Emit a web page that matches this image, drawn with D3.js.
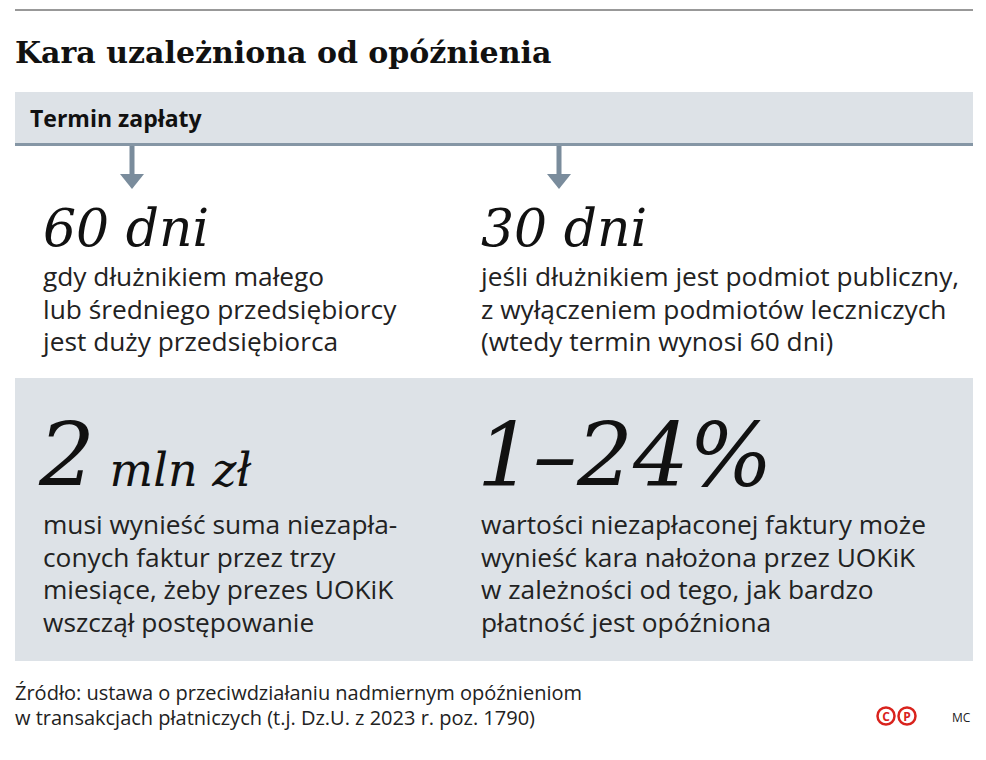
<!DOCTYPE html>
<html><head><meta charset="utf-8">
<script src="https://cdn.jsdelivr.net/npm/d3@7"></script>
<style>body{margin:0;background:#fff}</style></head>
<body><svg id="c" width="986" height="760"></svg>
<script>
const title = "Kara uzależniona od opóźnienia";
const bandLabel = "Termin zapłaty";
const topHeads = ["60 dni", "30 dni"];
const topTexts = [
  ["gdy dłużnikiem małego", "lub średniego przedsiębiorcy", "jest duży przedsiębiorca"],
  ["jeśli dłużnikiem jest podmiot publiczny,", "z wyłączeniem podmiotów leczniczych", "(wtedy termin wynosi 60 dni)"]
];
const bigNums = [["2", " mln zł"], ["1–24%", ""]];
const bottomTexts = [
  ["musi wynieść suma niezapła-", "conych faktur przez trzy", "miesiące, żeby prezes UOKiK", "wszczął postępowanie"],
  ["wartości niezapłaconej faktury może", "wynieść kara nałożona przez UOKiK", "w zależności od tego, jak bardzo", "płatność jest opóźniona"]
];
const source = ["Źródło: ustawa o przeciwdziałaniu nadmiernym opóźnieniom", "w transakcjach płatniczych (t.j. Dz.U. z 2023 r. poz. 1790)"];
const colX = [43, 481];
const arrowX = [132, 559];

const svg = d3.select("#c");
const sans = "'Open Sans', 'Noto Sans', sans-serif";
const serif = "'DejaVu Serif', 'Liberation Serif', serif";

svg.append("line").attr("x1", 15).attr("x2", 973).attr("y1", 10).attr("y2", 10).attr("stroke", "#333").attr("stroke-width", 1);
svg.append("text").attr("x", 15).attr("y", 63).text(title)
  .style("font-family", serif).style("font-weight", "bold").style("font-size", "30px").attr("fill", "#111");

svg.append("rect").attr("x", 15).attr("y", 92).attr("width", 958).attr("height", 52).attr("fill", "#dde2e7");
svg.append("rect").attr("x", 15).attr("y", 143).attr("width", 958).attr("height", 3).attr("fill", "#8596a5");
svg.append("text").attr("x", 30).attr("y", 127).text(bandLabel)
  .style("font-family", sans).style("font-weight", "bold").style("font-size", "23px").attr("fill", "#111");

arrowX.forEach(ax => {
  svg.append("rect").attr("x", ax - 2.5).attr("y", 146).attr("width", 5).attr("height", 30).attr("fill", "#7a8c9c");
  svg.append("path").attr("d", `M${ax-12},174 L${ax+12},174 L${ax},189 Z`).attr("fill", "#7a8c9c");
});

topHeads.forEach((h, i) => {
  svg.append("text").attr("x", colX[i]).attr("y", 246).text(h)
    .style("font-family", serif).style("font-style", "italic").style("font-size", "52px").attr("fill", "#111");
  topTexts[i].forEach((t, j) => {
    svg.append("text").attr("x", colX[i]).attr("y", 286 + j * 32.5).text(t)
      .style("font-family", sans).style("font-size", "26.3px").attr("fill", "#222");
  });
});

svg.append("rect").attr("x", 15).attr("y", 378).attr("width", 958).attr("height", 283).attr("fill", "#dde2e7");
bigNums.forEach((b, i) => {
  const t = svg.append("text").attr("x", colX[i] - 4).attr("y", 486)
    .style("font-family", serif).style("font-style", "italic").attr("fill", "#111");
  t.append("tspan").text(b[0]).style("font-size", "88px");
  if (b[1]) t.append("tspan").text(b[1]).style("font-size", "46px");
  bottomTexts[i].forEach((s, j) => {
    svg.append("text").attr("x", colX[i]).attr("y", 534 + j * 32.5).text(s)
      .style("font-family", sans).style("font-size", "26.3px").attr("fill", "#222");
  });
});

source.forEach((s, j) => {
  svg.append("text").attr("x", 15).attr("y", 700 + j * 25).text(s)
    .style("font-family", sans).style("font-size", "20px").attr("fill", "#222");
});
["C", "P"].forEach((l, i) => {
  const cx = 886 + i * 21;
  svg.append("circle").attr("cx", cx).attr("cy", 716).attr("r", 8.5).attr("fill", "none").attr("stroke", "#d9231d").attr("stroke-width", 2.5);
  svg.append("text").attr("x", cx).attr("y", 721).attr("text-anchor", "middle").text(l)
    .style("font-family", sans).style("font-weight", "bold").style("font-size", "12px").attr("fill", "#d9231d");
});
svg.append("text").attr("x", 952).attr("y", 722).text("MC")
  .style("font-family", sans).style("font-size", "12px").attr("fill", "#222");
</script></body></html>
